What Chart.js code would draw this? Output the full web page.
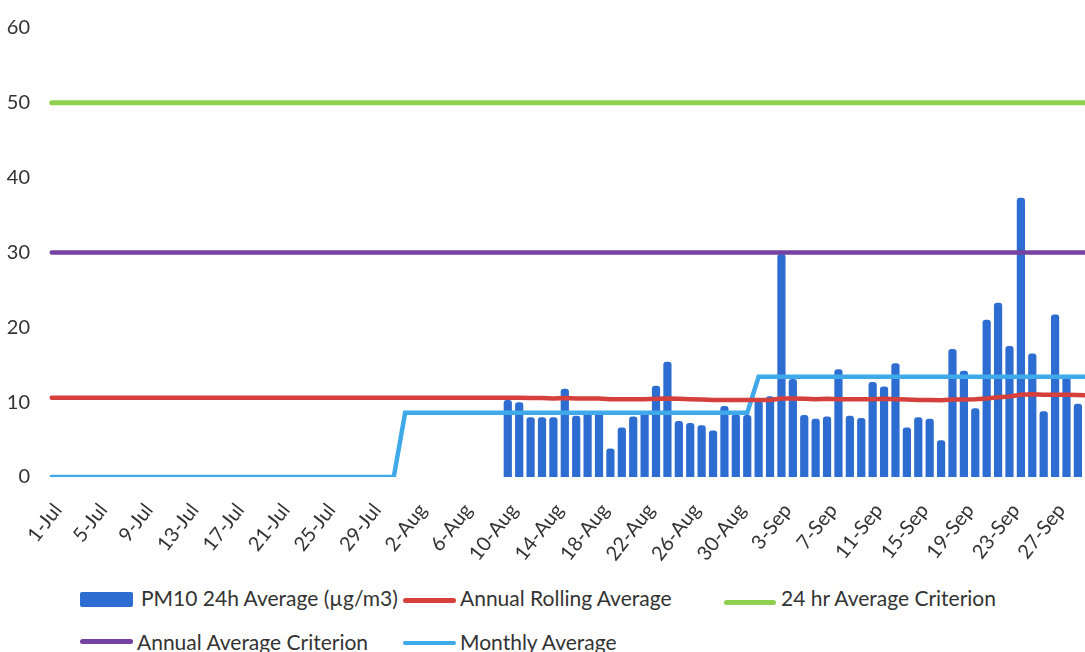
<!DOCTYPE html>
<html><head><meta charset="utf-8">
<script src="https://cdn.jsdelivr.net/npm/chart.js@4.4.1/dist/chart.umd.min.js"></script>
<style>
html,body{margin:0;padding:0;background:#fff;overflow:hidden;width:1085px;height:652px;}
#wrap{position:relative;width:1110px;height:652px;}
#c{position:absolute;left:0;top:0;}
.lgt{position:absolute;font-family:Lato,sans-serif;font-size:21px;color:#333;white-space:nowrap;line-height:21px;}
.lgs{position:absolute;}
</style></head>
<body><div id="wrap"><canvas id="c" width="1110" height="580"></canvas><div id="legend"></div></div>
<script>
// ---- categories (daily, 1-Jul .. 30-Sep) ----
const months = [['Jul', 31], ['Aug', 31], ['Sep', 30]];
const categories = [];
months.forEach(([m, n]) => { for (let d = 1; d <= n; d++) categories.push(d + '-' + m); });
const tickEvery = 4;

// ---- series ----
const seriesNames = ['PM10 24h Average (\u00b5g/m3)', 'Annual Rolling Average', '24 hr Average Criterion', 'Annual Average Criterion', 'Monthly Average'];

const pm10StartDate = '10-Aug';
const pm10Values = [
  10.3, 10.0, 8.0, 8.0, 8.0, 11.8, 8.2, 8.8, 8.6, 3.8, 6.6, 8.1, 8.8, 12.2, 15.4, 7.5, 7.2, 6.9, 6.2, 9.5, 8.4, 8.3,
  10.2, 10.8, 29.8, 13.1, 8.3, 7.8, 8.1, 14.4, 8.2, 7.9, 12.7, 12.1, 15.2, 6.6, 8.0, 7.8, 4.9, 17.1, 14.2, 9.2,
  21.0, 23.3, 17.5, 37.3, 16.5, 8.8, 21.7, 13.3, 9.8, 10.5
];

const rollingAverage = [
  10.6, 10.6, 10.6, 10.6, 10.6, 10.6, 10.6, 10.6, 10.6, 10.6, 10.6, 10.6, 10.6, 10.6, 10.6, 10.6,
  10.6, 10.6, 10.6, 10.6, 10.6, 10.6, 10.6, 10.6, 10.6, 10.6, 10.6, 10.6, 10.6, 10.6, 10.6,
  10.6, 10.6, 10.6, 10.6, 10.6, 10.6, 10.6, 10.6, 10.6,
  10.6, 10.6, 10.55, 10.55, 10.5, 10.55, 10.5, 10.5, 10.5, 10.4, 10.4, 10.4, 10.4, 10.45, 10.5, 10.45,
  10.4, 10.35, 10.3, 10.3, 10.3, 10.3,
  10.3, 10.3, 10.5, 10.5, 10.45, 10.4, 10.45, 10.4, 10.4, 10.4, 10.4, 10.45, 10.4, 10.35, 10.3,
  10.3, 10.25, 10.35, 10.35, 10.4, 10.5, 10.65, 10.75, 11.0, 11.05, 11.0, 11.0, 11.0, 10.95, 10.9
];

const criterion24h = [{x: '1-Jul', y: 50}, {x: '30-Sep', y: 50}];
const criterionAnnual = [{x: '1-Jul', y: 30}, {x: '30-Sep', y: 30}];
const monthlyAverage = [
  {x: '1-Jul', y: 0}, {x: '31-Jul', y: 0},
  {x: '1-Aug', y: 8.6}, {x: '31-Aug', y: 8.6},
  {x: '1-Sep', y: 13.4}, {x: '30-Sep', y: 13.4}
];

const yTicks = [0, 10, 20, 30, 40, 50, 60];

// ---- build ----
const startIdx = categories.indexOf(pm10StartDate);
const pm10Data = categories.map((c, i) => (i >= startIdx && i - startIdx < pm10Values.length) ? pm10Values[i - startIdx] : null);

const colors = ['#2d6cd0', '#d6403c', '#8fd14f', '#7541a3', '#3fa9ea'];

Chart.defaults.font.family = 'Lato, sans-serif';
Chart.defaults.color = '#333333';

const lineBase = {type: 'line', pointRadius: 0, pointHoverRadius: 0, tension: 0, fill: false, order: 0, borderCapStyle: 'round'};

const chart = new Chart(document.getElementById('c'), {
  data: {
    labels: categories,
    datasets: [
      {type: 'bar', label: seriesNames[0], data: pm10Data, backgroundColor: colors[0], order: 1,
       barPercentage: 0.72, categoryPercentage: 1.0, borderRadius: 3, borderSkipped: 'start'},
      Object.assign({}, lineBase, {label: seriesNames[1], data: rollingAverage, borderColor: colors[1], borderWidth: 4.5}),
      Object.assign({}, lineBase, {label: seriesNames[2], data: criterion24h, borderColor: colors[2], borderWidth: 5}),
      Object.assign({}, lineBase, {label: seriesNames[3], data: criterionAnnual, borderColor: colors[3], borderWidth: 4.5}),
      Object.assign({}, lineBase, {label: seriesNames[4], data: monthlyAverage, borderColor: colors[4], borderWidth: 4.5})
    ]
  },
  options: {
    responsive: false,
    animation: false,
    events: [],
    layout: {padding: {left: 0, right: 15, top: 26, bottom: 0}},
    plugins: {legend: {display: false}, tooltip: {enabled: false}},
    scales: {
      x: {
        type: 'category', offset: true,
        grid: {display: false, drawTicks: false},
        border: {display: false},
        ticks: {
          autoSkip: false, maxRotation: 52, minRotation: 52, padding: 22, labelOffset: 6,
          font: {size: 20}, color: '#333333',
          callback: function (value, index) { return index % tickEvery === 0 ? this.getLabelForValue(value) : null; }
        },
        afterFit: s => { s.height = 103; }
      },
      y: {
        min: yTicks[0], max: yTicks[yTicks.length - 1],
        grid: {display: false, drawTicks: false},
        border: {display: false},
        afterBuildTicks: s => { s.ticks = yTicks.map(v => ({value: v})); },
        ticks: {font: {size: 20}, color: '#333333', padding: 16},
        afterFit: s => { s.width = 46; }
      }
    }
  }
});

// ---- HTML legend (positioned like the original two-row legend) ----
const legendLayout = [
  {sw: 'box', sx: 80, sy: 592, sw_: 53, sh: 15, tx: 141, ty: 587},
  {sw: 'line', sx: 403, sy: 598, sw_: 53, sh: 5, tx: 460, ty: 587},
  {sw: 'line', sx: 724, sy: 600, sw_: 52, sh: 5, tx: 781, ty: 587},
  {sw: 'line', sx: 80, sy: 639, sw_: 53, sh: 5, tx: 137, ty: 631},
  {sw: 'line', sx: 403, sy: 641, sw_: 53, sh: 4, tx: 460, ty: 631}
];
const lg = document.getElementById('legend');
chart.data.datasets.forEach((ds, i) => {
  const L = legendLayout[i];
  const s = document.createElement('div');
  s.className = 'lgs';
  s.style.cssText = `left:${L.sx}px;top:${L.sy}px;width:${L.sw_}px;height:${L.sh}px;background:${colors[i]};border-radius:${L.sw === 'box' ? 2 : 3}px;`;
  lg.appendChild(s);
  const t = document.createElement('div');
  t.className = 'lgt';
  t.style.left = L.tx + 'px';
  t.style.top = L.ty + 'px';
  t.textContent = ds.label;
  lg.appendChild(t);
});
</script>
</body></html>
